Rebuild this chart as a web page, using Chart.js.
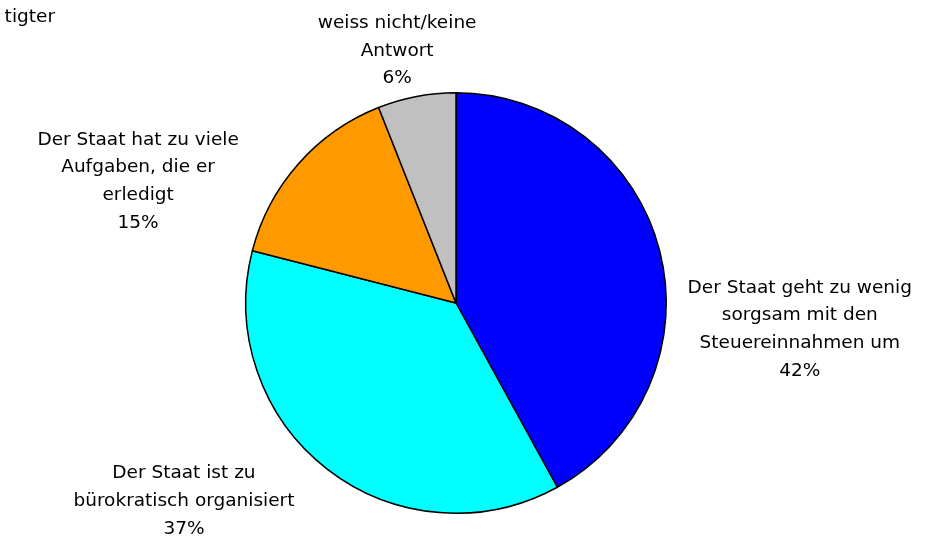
<!DOCTYPE html>
<html>
<head>
<meta charset="utf-8">
<script src="https://cdn.jsdelivr.net/npm/chart.js@4.4.0/dist/chart.umd.min.js"></script>
<style>
html,body{margin:0;padding:0;background:#fff;}
#wrap{width:930px;height:540px;position:relative;}
</style>
</head>
<body>
<div id="wrap"><canvas id="c" width="930" height="540"></canvas></div>
<script>
const categories = [
  ["Der Staat geht zu wenig", "sorgsam mit den", "Steuereinnahmen um"],
  ["Der Staat ist zu", "bürokratisch organisiert"],
  ["Der Staat hat zu viele", "Aufgaben, die er", "erledigt"],
  ["weiss nicht/keine", "Antwort"]
];
const values = [42, 37, 15, 6];
const colors = ["#0000FF", "#00FFFF", "#FF9900", "#C0C0C0"];
// label centre offsets relative to pie centre, in units of radius
const labelOffsets = [[1.635, 0.126], [-1.294, 0.943], [-1.512, -0.578], [-0.28, -1.199]];
const topLeftText = "tigter";

const FONT = '18.5px "DejaVu Sans", Tahoma, sans-serif';
const LINE_H = 27.7;

const labelPlugin = {
  id: 'outLabels',
  afterDraw(chart) {
    const ctx = chart.ctx;
    const meta = chart.getDatasetMeta(0);
    const arc0 = meta.data[0];
    const cx = arc0.x, cy = arc0.y, r = arc0.outerRadius;
    ctx.save();
    ctx.font = FONT;
    ctx.fillStyle = '#000';
    ctx.textAlign = 'center';
    ctx.textBaseline = 'middle';
    meta.data.forEach((arc, i) => {
      const lines = categories[i].concat([values[i] + '%']);
      const lx = cx + labelOffsets[i][0] * r;
      const ly = cy + labelOffsets[i][1] * r;
      const y0 = ly - (lines.length - 1) * LINE_H / 2;
      lines.forEach((t, k) => ctx.fillText(t, lx, y0 + k * LINE_H));
    });
    ctx.textAlign = 'right';
    ctx.fillText(topLeftText, 55, 17);
    ctx.restore();
  }
};

new Chart(document.getElementById('c'), {
  type: 'pie',
  data: {
    labels: categories.map(c => c.join(' ')),
    datasets: [{
      data: values,
      backgroundColor: colors,
      borderColor: '#000',
      borderWidth: 1.5,
      hoverOffset: 0
    }]
  },
  options: {
    responsive: false,
    animation: false,
    layout: { padding: { top: 92, bottom: 26, left: 245, right: 263 } },
    plugins: { legend: { display: false }, tooltip: { enabled: false } }
  },
  plugins: [labelPlugin]
});
</script>
</body>
</html>
